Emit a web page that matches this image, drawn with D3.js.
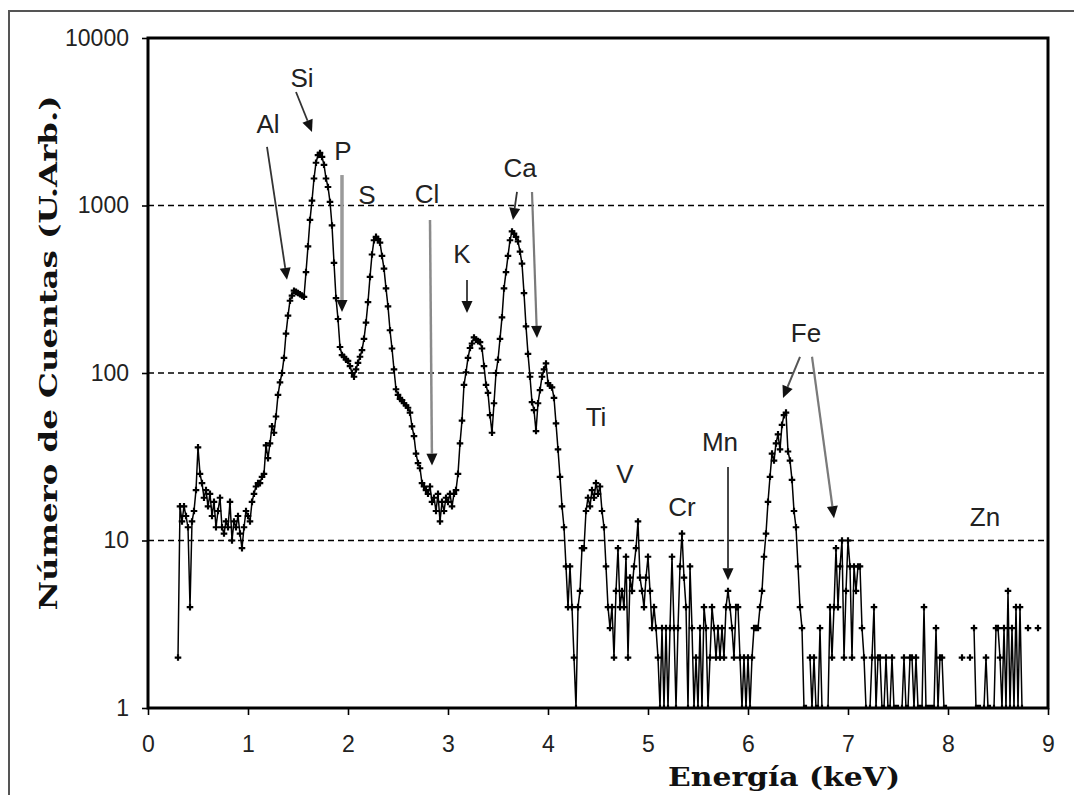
<!DOCTYPE html>
<html><head><meta charset="utf-8">
<script src="https://cdn.jsdelivr.net/npm/d3@7"></script>
<style>body{margin:0;background:#fff}svg{display:block}</style>
</head><body>
<svg id="c" width="1074" height="795"></svg>
<script>
// Channel calibration of the spectrum (keV)
const energyStart = 0.30, energyStep = 0.02;
// Counts per channel (0 = no count, not drawn on log axis)
const counts = [
  2, 16, 13, 16, 14, 12, 4, 13, 15, 20,          // 0.30
  36, 25, 22, 18, 20, 16, 19, 14, 17, 12,        // 0.50
  15, 18, 12, 11, 13, 12, 17, 10, 13, 12,        // 0.70
  14, 11, 9, 12, 15, 14, 13, 17, 19, 21,         // 0.90
  22, 22, 24, 25, 37, 31, 38, 48, 44, 55,        // 1.10
  74, 88, 100, 123, 172, 220, 270, 290, 310, 305,// 1.30
  300, 295, 290, 285, 400, 570, 820, 1070, 1450, 1800, // 1.50
  2000, 2060, 1950, 1750, 1450, 1290, 1050, 760, 455, 280, // 1.70
  210, 143, 128, 125, 120, 118, 110, 100, 95, 105, // 1.90
  115, 125, 137, 160, 200, 265, 375, 510, 620, 650, // 2.10
  630, 600, 500, 420, 320, 250, 180, 140, 105, 80, // 2.30
  74, 70, 69, 66, 64, 62, 58, 48, 42, 33,        // 2.50
  29, 27, 22, 21, 20, 19, 21, 17, 18, 15,        // 2.70
  19, 13, 17, 15, 18, 17, 19, 16, 19, 20,        // 2.90
  25, 38, 52, 85, 101, 123, 141, 150, 163, 158,  // 3.10
  155, 153, 140, 110, 85, 76, 56, 44, 66, 100,   // 3.30
  120, 160, 215, 320, 400, 500, 620, 700, 680, 650, // 3.50
  610, 530, 450, 300, 190, 130, 95, 67, 60, 45,  // 3.70
  66, 79, 95, 105, 114, 87, 84, 82, 71, 50,      // 3.90
  35, 24, 16, 12, 7, 4, 7, 4, 2, 1,              // 4.10
  4, 5, 9, 9, 15, 18, 16, 20, 18, 22,            // 4.30
  19, 21, 15, 12, 7, 4, 3, 4, 2, 5,              // 4.50
  9, 4, 5, 4, 8, 2, 6, 5, 7, 9,                  // 4.70
  13, 6, 5, 4, 6, 8, 5, 3, 4, 3,                 // 4.90
  2, 1, 3, 1, 3, 1, 3, 8, 3, 1,                  // 5.10
  3, 7, 11, 6, 4, 1, 7, 3, 1, 2,                 // 5.30
  1, 3, 1, 4, 3, 1, 2, 4, 3, 2,                  // 5.50
  3, 2, 3, 2, 4, 5, 4, 3, 2, 4,                  // 5.70
  4, 2, 1, 2, 1, 2, 1, 2, 3, 3,                  // 5.90
  3, 4, 5, 8, 11, 17, 24, 33, 30, 38,            // 6.10
  43, 35, 49, 56, 58, 34, 30, 23, 15, 12,        // 6.30
  7, 4, 3, 1, 1, 0, 2, 1, 2, 1,                  // 6.50
  1, 3, 1, 0, 0, 1, 4, 2, 4, 9,                  // 6.70
  4, 7, 10, 2, 5, 10, 7, 2, 7, 5,                // 6.90
  7, 7, 3, 2, 1, 0, 1, 2, 4, 1,                  // 7.10
  2, 2, 1, 1, 2, 1, 1, 2, 1, 1,                  // 7.30
  1, 0, 1, 2, 1, 1, 2, 2, 1, 2,                  // 7.50
  1, 1, 1, 4, 1, 1, 1, 1, 1, 3,                  // 7.70
  1, 2, 2, 1, 1, 0, 0, 0, 0, 0,                  // 7.90
  0, 0, 2, 0, 0, 0, 2, 0, 3, 1,                  // 8.10
  1, 1, 0, 1, 2, 1, 1, 0, 1, 3,                  // 8.30
  3, 2, 1, 3, 1, 5, 1, 3, 1, 4,                  // 8.50
  1, 4, 1, 0, 0, 3, 0, 0, 0, 0,                  // 8.70
  3                                              // 8.90
];
const xTicks = [0, 1, 2, 3, 4, 5, 6, 7, 8, 9];
const yTicks = [1, 10, 100, 1000, 10000];
const gridValues = [10, 100, 1000];
const xTitle = "Energía (keV)";
const yTitle = "Número de Cuentas (U.Arb.)";
// Element labels, placed in data coordinates (keV, counts)
const elementLabels = [
  {text: "Al", e: 1.20, c: 3100}, {text: "Si", e: 1.54, c: 5770},
  {text: "P", e: 1.95, c: 2115},  {text: "S", e: 2.19, c: 1155},
  {text: "Cl", e: 2.79, c: 1170}, {text: "K", e: 3.14, c: 513},
  {text: "Ca", e: 3.72, c: 1675}, {text: "Ti", e: 4.48, c: 55},
  {text: "V", e: 4.77, c: 25},    {text: "Cr", e: 5.34, c: 16},
  {text: "Mn", e: 5.72, c: 39},   {text: "Fe", e: 6.58, c: 173},
  {text: "Zn", e: 8.37, c: 13.8}
];
// Arrows (from -> tip) in data coordinates
const arrowFrom = [[1.19,2240],[1.48,4760],[1.94,1520],[2.82,820],[3.19,359],[3.69,1204],[3.84,1204],[5.80,27.5],[6.52,125],[6.64,125]];
const arrowTo   = [[1.39,360],[1.64,2750],[1.94,231],[2.84,28],[3.19,228],[3.65,819],[3.89,162],[5.80,5.8],[6.35,71],[6.86,13.6]];
const arrowTone = ["#333","#333","#9a9a9a","#8a8a8a","#333","#333","#7a7a7a","#333","#555","#7a7a7a"];
const arrowWidth = [1.8,1.8,3.5,2.5,1.8,1.8,2.2,1.8,2,2.2];

const svg = d3.select("#c");
const W = 1074, H = 795;
const pLeft = 148, pRight = 1048, pTop = 38, pBottom = 708;
const x = d3.scaleLinear().domain([0, 9]).range([pLeft, pRight]);
const y = d3.scaleLog().domain([1, 10000]).range([pBottom, pTop]);

svg.append("rect").attr("width", W).attr("height", H).attr("fill", "#fff");
// outer frame
svg.append("rect").attr("x", 9).attr("y", 11).attr("width", 1100).attr("height", 820)
  .attr("fill", "none").attr("stroke", "#555").attr("stroke-width", 2);

svg.append("defs").append("clipPath").attr("id", "clip")
  .append("rect").attr("x", pLeft).attr("y", pTop).attr("width", pRight-pLeft).attr("height", pBottom-pTop+1);

// gridlines
svg.append("g").selectAll("line").data(gridValues).join("line")
  .attr("x1", pLeft).attr("x2", pRight).attr("y1", d => y(d)).attr("y2", d => y(d))
  .attr("stroke", "#000").attr("stroke-width", 1.4).attr("stroke-dasharray", "6,4");

// axes
const yAxis = svg.append("g").attr("transform", `translate(${pLeft},0)`)
  .call(d3.axisLeft(y).tickValues(yTicks).tickFormat(d3.format("d")).tickSize(6).tickPadding(13));
const xAxis = svg.append("g").attr("transform", `translate(0,${pBottom})`)
  .call(d3.axisBottom(x).tickValues(xTicks).tickFormat(d3.format("d")).tickSize(7).tickPadding(21));
[yAxis, xAxis].forEach(a => {
  a.select(".domain").remove();
  a.selectAll(".tick line").attr("stroke", "#000").attr("stroke-width", 1.6);
  a.selectAll(".tick text").attr("font-family", "'Liberation Sans', Arial, sans-serif")
    .attr("font-size", 23).attr("fill", "#222");
});

// spectrum
const pts = counts.map((c, i) => ({e: energyStart + i * energyStep, c}));
const g = svg.append("g").attr("clip-path", "url(#clip)");
const line = d3.line().defined(d => d.c > 0).x(d => x(d.e)).y(d => y(d.c));
g.append("path").datum(pts).attr("d", line)
  .attr("fill", "none").attr("stroke", "#000").attr("stroke-width", 1.5).attr("stroke-linejoin", "miter");
g.selectAll("path.m").data(pts.filter(d => d.c > 0)).join("path").attr("class", "m")
  .attr("d", d3.symbol(d3.symbolCross, 24))
  .attr("transform", d => `translate(${x(d.e)},${y(d.c)})`).attr("fill", "#000");

// plot frame
svg.append("rect").attr("x", pLeft).attr("y", pTop).attr("width", pRight-pLeft).attr("height", pBottom-pTop)
  .attr("fill", "none").attr("stroke", "#000").attr("stroke-width", 3);

// arrows
arrowFrom.forEach((f, i) => {
  const x1 = x(f[0]), y1 = y(f[1]), x2 = x(arrowTo[i][0]), y2 = y(arrowTo[i][1]);
  const dx = x2 - x1, dy = y2 - y1, L = Math.hypot(dx, dy), ux = dx / L, uy = dy / L;
  const hl = 12, hw = 5.5;
  const bx = x2 - ux * hl, by = y2 - uy * hl;
  svg.append("line").attr("x1", x1).attr("y1", y1).attr("x2", bx).attr("y2", by)
    .attr("stroke", arrowTone[i]).attr("stroke-width", arrowWidth[i]);
  svg.append("path")
    .attr("d", `M${x2},${y2}L${bx - uy*hw},${by + ux*hw}L${bx + uy*hw},${by - ux*hw}Z`)
    .attr("fill", "#111");
});

// element labels
svg.append("g").selectAll("text").data(elementLabels).join("text")
  .attr("x", d => x(d.e)).attr("y", d => y(d.c)).attr("dy", "0.36em")
  .attr("text-anchor", "middle").attr("font-family", "'Liberation Sans', Arial, sans-serif")
  .attr("font-size", 26).attr("fill", "#222").text(d => d.text);

// axis titles
svg.append("text").attr("x", 784).attr("y", 786).attr("text-anchor", "middle")
  .attr("font-family", "'DejaVu Serif', serif").attr("font-weight", "bold").attr("font-size", 26)
  .attr("textLength", 232).attr("lengthAdjust", "spacingAndGlyphs").attr("fill", "#111").text(xTitle);
svg.append("text").attr("transform", "translate(57,353) rotate(-90)").attr("text-anchor", "middle")
  .attr("font-family", "'DejaVu Serif', serif").attr("font-weight", "bold").attr("font-size", 25)
  .attr("textLength", 515).attr("lengthAdjust", "spacingAndGlyphs").attr("fill", "#111").text(yTitle);
</script>
</body></html>
